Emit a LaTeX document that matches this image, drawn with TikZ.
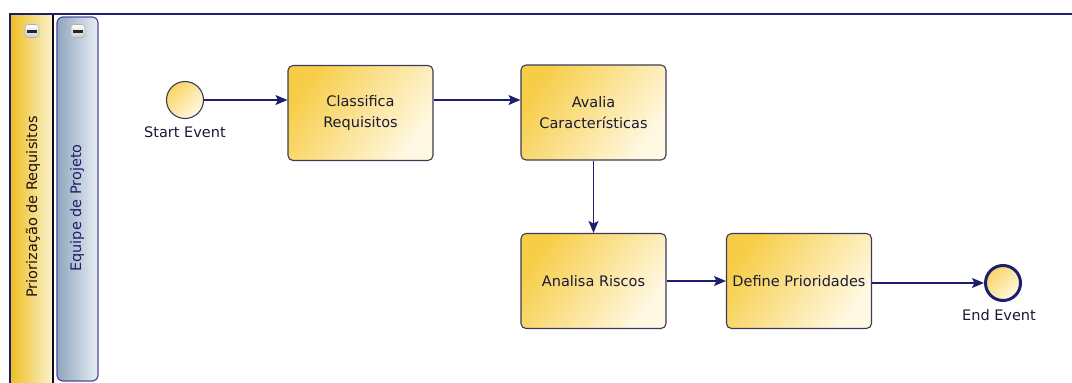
\documentclass[tikz,border=0pt]{standalone}
\usepackage{fontspec}
\setmainfont{DejaVu Sans}
\usetikzlibrary{arrows.meta}

\definecolor{flownavy}{HTML}{1E1E6E}
\definecolor{boxedge}{HTML}{3C3C58}
\definecolor{taskgold}{HTML}{F7CD48}
\definecolor{taskpale}{HTML}{FFF9E4}
\definecolor{poolgold}{HTML}{EDBE22}
\definecolor{poolpale}{HTML}{FBF3CF}
\definecolor{laneblue}{HTML}{8FA6BD}
\definecolor{lanepale}{HTML}{E8EDF4}
\definecolor{laneedge}{HTML}{4A4AA0}
\definecolor{labeltext}{HTML}{1A1A36}

\tikzset{
  taskbox/.style={rectangle, rounded corners=5pt, draw=boxedge, line width=1.1pt,
    minimum width=145pt, minimum height=95pt, align=center, text=labeltext,
    top color=taskgold, bottom color=taskpale, shading angle=55},
  startevent/.style={circle, draw=boxedge, line width=1.1pt, minimum size=37pt,
    inner sep=0pt, top color=taskgold!85, bottom color=taskpale, shading angle=45},
  endevent/.style={circle, draw=flownavy, line width=3pt, minimum size=35pt,
    inner sep=0pt, top color=taskgold!85, bottom color=taskpale, shading angle=45},
  eventlabel/.style={text=labeltext, inner sep=0pt},
  flow/.style={draw=flownavy, line width=1.2pt,
    -{Stealth[length=12pt,width=10pt,inset=2.5pt]}},
  collapsebtn/.style={rectangle, rounded corners=3pt, draw=gray!60, line width=0.6pt,
    minimum width=14pt, minimum height=13pt, inner sep=0pt,
    top color=white, bottom color=gray!40,
    path picture={\draw[line width=3pt, black!85]
      ([xshift=-5pt]path picture bounding box.center) --
      ([xshift=5pt]path picture bounding box.center);}},
}

\begin{document}
\begin{tikzpicture}[x=1pt, y=-1pt, font=\fontsize{14.5}{21}\selectfont]
\useasboundingbox (0,0) rectangle (1072,383);
\fill[white] (0,0) rectangle (1072,383);

% pool header band and outline
\shade[left color=poolgold, right color=poolpale] (10,14) rectangle (53,383);
\draw[black!70!flownavy, line width=1.2pt] (53,14) -- (53,383);
\draw[flownavy, line width=2pt] (10,383) -- (10,14) -- (1072,14);

% lane header
\draw[rounded corners=6pt, draw=laneedge, line width=1.2pt,
      left color=laneblue, right color=lanepale] (57,17) rectangle (98,381);

% header titles and collapse buttons
\node[rotate=90, text=black!85!brown] (pooltitle) at (33,207) {Priorização de Requisitos};
\node[rotate=90, text=flownavy] (lanetitle) at (77,208) {Equipe de Projeto};
\node[collapsebtn] (poolbtn) at (32,31) {};
\node[collapsebtn] (lanebtn) at (78,31) {};

% events and tasks
\node[startevent] (start) at (185,100) {};
\node[eventlabel] (startlbl) at (185,132) {Start Event};
\node[taskbox] (classifica) at (360.5,113) {Classifica\\Requisitos};
\node[taskbox] (avalia) at (593.5,112.5) {Avalia\\Características};
\node[taskbox] (analisa) at (593.5,281) {Analisa Riscos};
\node[taskbox] (define) at (799,281) {Define Prioridades};
\node[endevent] (end) at (1003,283) {};
\node[eventlabel] (endlbl) at (999,315) {End Event};

% sequence flows
\draw[flow] (start.east) -- (start.east -| classifica.west);
\draw[flow] (classifica.east |- start.east) -- (avalia.west |- start.east);
\draw[flow] (avalia.south) -- (analisa.north);
\draw[flow] (analisa.east) -- (define.west);
\draw[flow] (define.east |- end.west) -- (end.west);
\end{tikzpicture}
\end{document}
